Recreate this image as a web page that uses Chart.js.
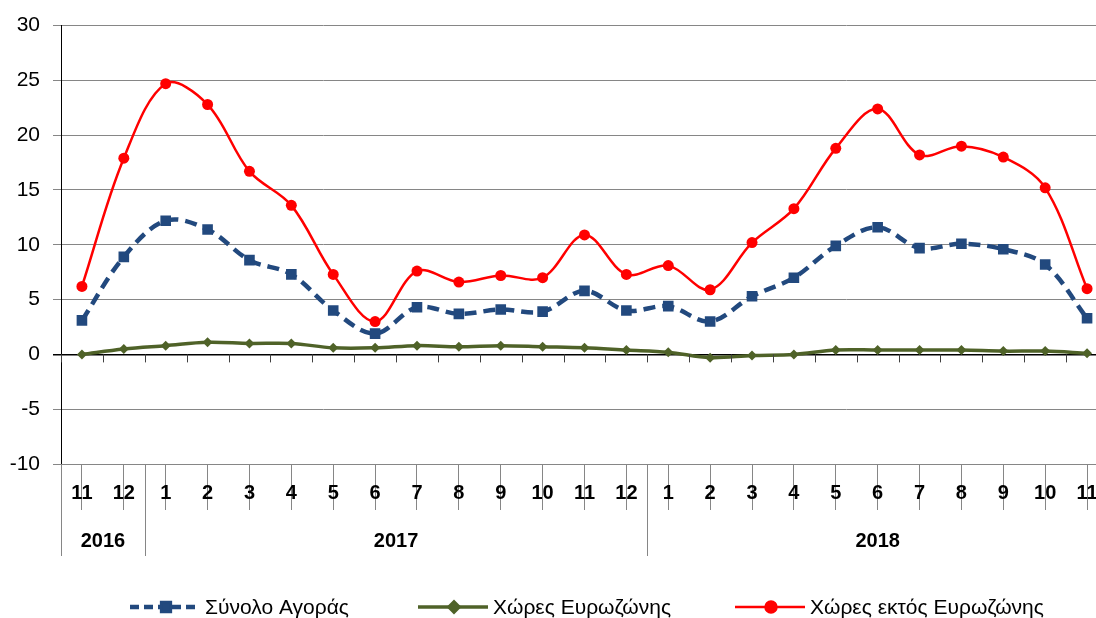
<!DOCTYPE html>
<html>
<head>
<meta charset="utf-8">
<script src="https://cdn.jsdelivr.net/npm/chart.js@4/dist/chart.umd.min.js"></script>
<style>
  html, body { margin: 0; padding: 0; background: #fff; overflow: hidden; }
  #wrap { width: 1108px; height: 618px; }
</style>
</head>
<body>
<div id="wrap"><canvas id="chart" width="1108" height="618"></canvas></div>
<script>
// months shown on the axis (Nov 2016 .. Nov 2018)
const months = ['11', '12', '1', '2', '3', '4', '5', '6', '7', '8', '9', '10', '11', '12',
    '1', '2', '3', '4', '5', '6', '7', '8', '9', '10', '11'];
const yearLabels = ['2016', '2017', '2018'];
const monthsPerYear = [2, 12, 11];

// % change series
const totalMarket = [3.1, 8.9, 12.2, 11.4, 8.6, 7.3, 4.0, 1.9, 4.3, 3.7, 4.1, 3.9, 5.8, 4.0,
    4.4, 3.0, 5.3, 7.0, 9.9, 11.6, 9.7, 10.1, 9.6, 8.2, 3.3];
const euroArea = [0.0, 0.5, 0.8, 1.1, 1.0, 1.0, 0.6, 0.6, 0.8, 0.7, 0.8, 0.7, 0.6, 0.4,
    0.2, -0.3, -0.1, 0.0, 0.4, 0.4, 0.4, 0.4, 0.3, 0.3, 0.1];
const nonEuroArea = [6.2, 17.9, 24.7, 22.8, 16.7, 13.6, 7.3, 3.0, 7.6, 6.6, 7.2, 7.0, 10.9, 7.3,
    8.1, 5.9, 10.2, 13.3, 18.8, 22.4, 18.2, 19.0, 18.0, 15.2, 6.0];

const yTicks = { min: -10, max: 30, step: 5 };

const FONT = '"Liberation Sans", Arial, sans-serif';
const GRID = '#868686';

// draws the two-level category table, the small ticks on the zero line and the legend
const tableAxis = {
    id: 'tableAxis',
    afterDraw(chart) {
        const ctx = chart.ctx;
        const xs = chart.scales.x;
        const ys = chart.scales.y;
        const half = (xs.getPixelForValue(1) - xs.getPixelForValue(0)) / 2;
        const bottom = chart.chartArea.bottom;
        const y0 = ys.getPixelForValue(0);

        ctx.save();
        // ticks hanging from the zero line
        ctx.strokeStyle = '#404040';
        ctx.lineWidth = 1;
        ctx.beginPath();
        for (let i = 0; i <= months.length; i++) {
            const x = Math.round(xs.getPixelForValue(i) - half) + 0.5;
            ctx.moveTo(x, y0);
            ctx.lineTo(x, y0 + 8);
        }
        ctx.stroke();

        // month labels
        ctx.fillStyle = '#000';
        ctx.font = 'bold 20px ' + FONT;
        ctx.textAlign = 'center';
        ctx.textBaseline = 'middle';
        months.forEach((m, i) => ctx.fillText(m, xs.getPixelForValue(i), bottom + 29));

        // year separators and labels
        ctx.strokeStyle = GRID;
        let start = 0;
        ctx.beginPath();
        const left = Math.round(xs.getPixelForValue(0) - half) + 0.5;
        ctx.moveTo(left, bottom);
        ctx.lineTo(left, bottom + 92);
        yearLabels.forEach((y, k) => {
            const end = start + monthsPerYear[k];
            const x1 = xs.getPixelForValue(start) - half;
            const x2 = xs.getPixelForValue(end - 1) + half;
            if (k > 0) {
                const xl = Math.round(x1) + 0.5;
                ctx.moveTo(xl, bottom);
                ctx.lineTo(xl, bottom + 92);
            }
            ctx.fillText(y, (x1 + x2) / 2, bottom + 77);
            start = end;
        });
        ctx.stroke();

        // legend
        const ly = 607;
        const items = [
            { ds: chart.data.datasets[0], x: 130, dash: [9, 5], r: 5.5 },
            { ds: chart.data.datasets[1], x: 418, dash: [], r: 5 },
            { ds: chart.data.datasets[2], x: 735, dash: [], r: 5.5 }
        ];
        ctx.font = '21px ' + FONT;
        ctx.textAlign = 'left';
        items.forEach(it => {
            const ds = it.ds;
            ctx.strokeStyle = ds.borderColor;
            ctx.lineWidth = ds.borderWidth;
            ctx.setLineDash(it.dash);
            ctx.beginPath();
            ctx.moveTo(it.x, ly);
            ctx.lineTo(it.x + 70, ly);
            ctx.stroke();
            ctx.setLineDash([]);
            Chart.helpers.drawPoint(ctx, {
                pointStyle: ds.pointStyle,
                radius: it.r,
                rotation: 0,
                borderWidth: 1
            }, it.x + 36, ly);
            ctx.fillStyle = ds.pointBackgroundColor;
            ctx.strokeStyle = ds.pointBorderColor;
            ctx.fill();
            ctx.fillStyle = '#000';
            ctx.fillText(ds.label, it.x + 75, ly + 1);
        });
        ctx.restore();
    }
};

const blue = '#22497e';
const green = '#4f6228';
const red = '#ff0000';

new Chart(document.getElementById('chart'), {
    type: 'line',
    data: {
        labels: months.map((m, i) => i),
        datasets: [{
            label: 'Σύνολο Αγοράς',
            data: totalMarket,
            borderColor: blue,
            borderWidth: 4.5,
            borderDash: [12, 7],
            pointStyle: 'rect',
            pointRadius: 7.5,
            pointBackgroundColor: blue,
            pointBorderColor: blue,
            pointBorderWidth: 0,
            tension: 0.35
        }, {
            label: 'Χώρες Ευρωζώνης',
            data: euroArea,
            borderColor: green,
            borderWidth: 3.5,
            pointStyle: 'rectRot',
            pointRadius: 5,
            pointBackgroundColor: green,
            pointBorderColor: green,
            pointBorderWidth: 0,
            tension: 0.35
        }, {
            label: 'Χώρες εκτός Ευρωζώνης',
            data: nonEuroArea,
            borderColor: red,
            borderWidth: 2.5,
            pointStyle: 'circle',
            pointRadius: 5.5,
            pointBackgroundColor: red,
            pointBorderColor: red,
            pointBorderWidth: 0,
            tension: 0.35
        }]
    },
    options: {
        responsive: false,
        animation: false,
        devicePixelRatio: 1,
        layout: { autoPadding: false, padding: { top: 23, bottom: 62, left: 0, right: 0 } },
        plugins: {
            legend: { display: false },
            tooltip: { enabled: false }
        },
        scales: {
            x: {
                type: 'category',
                offset: true,
                grid: {
                    drawOnChartArea: false,
                    color: GRID,
                    tickLength: 46
                },
                border: { color: GRID },
                ticks: { display: false },
                afterFit(scale) { scale.height = 92; }
            },
            y: {
                min: yTicks.min,
                max: yTicks.max,
                grid: {
                    color: c => (c.tick && c.tick.value === 0 ? '#000' : GRID),
                    lineWidth: c => (c.tick && c.tick.value === 0 ? 1.5 : 1),
                    tickLength: 8
                },
                border: { color: '#000', width: 1 },
                ticks: {
                    stepSize: yTicks.step,
                    padding: 13,
                    color: '#000',
                    font: { family: FONT, size: 21 }
                },
                afterFit(scale) { scale.width = 61; }
            }
        }
    },
    plugins: [tableAxis]
});
</script>
</body>
</html>
